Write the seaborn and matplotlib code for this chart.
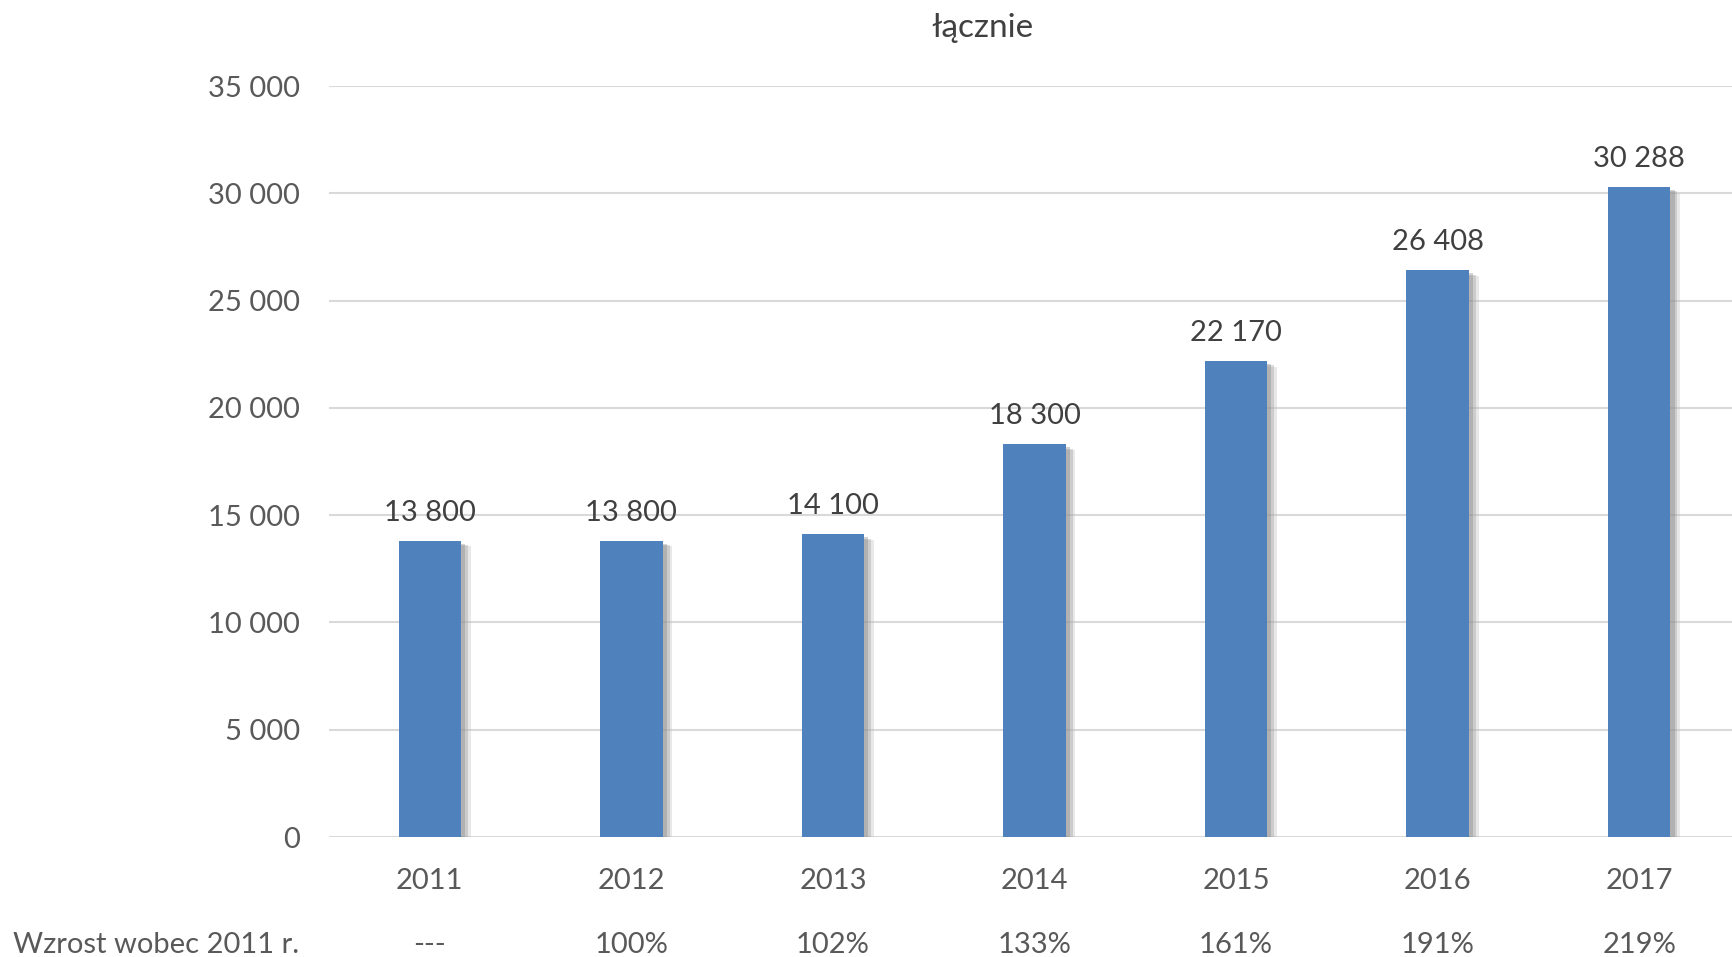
import matplotlib
matplotlib.use("Agg")
import matplotlib.pyplot as plt
import matplotlib.patheffects as pe
import matplotlib.transforms as mtransforms
from matplotlib.ticker import FuncFormatter, MultipleLocator
import seaborn as sns
import pandas as pd

years = ["2011", "2012", "2013", "2014", "2015", "2016", "2017"]
values = [13800, 13800, 14100, 18300, 22170, 26408, 30288]
growth = ["---", "100%", "102%", "133%", "161%", "191%", "219%"]
row_label = "Wzrost wobec 2011 r."
title = "łącznie"

sns.set_style("white")
plt.rcParams['font.family'] = ['Lato', 'DejaVu Sans']

text_color = "#595959"
bar_color = "#4F81BD"
fs = 21

df = pd.DataFrame({"Rok": years, "Liczba": values})

fig = plt.figure(figsize=(17.33, 9.57), dpi=100)
ax = fig.add_axes([329 / 1733, 1 - 837 / 957, 1411 / 1733, 751 / 957])

sns.barplot(data=df, x="Rok", y="Liczba", color=bar_color, width=0.31,
            saturation=1, linewidth=0, ax=ax, zorder=3)

# soft drop shadow, a few layers
for patch in ax.patches:
    patch.set_path_effects([
        pe.SimplePatchShadow(offset=(7, -4), shadow_rgbFace="#bfbfbf", alpha=0.35),
        pe.SimplePatchShadow(offset=(5, -3), shadow_rgbFace="#9a9a9a", alpha=0.35),
        pe.SimplePatchShadow(offset=(3, -2), shadow_rgbFace="#7f7f7f", alpha=0.35),
        pe.Normal(),
    ])

fmt = lambda v: f"{v:,.0f}".replace(",", " ")
ax.bar_label(ax.containers[0], labels=[fmt(v) for v in values], padding=11,
             fontsize=fs, color="#404040")

ax.set_ylim(0, 35000)
ax.set_xlim(-0.5, 6.5)
ax.yaxis.set_major_locator(MultipleLocator(5000))
ax.yaxis.set_major_formatter(FuncFormatter(lambda v, p: fmt(v)))
ax.grid(axis="y", color="#D9D9D9", linewidth=1.5, zorder=0)
ax.set_axisbelow(True)
for s in ax.spines.values():
    s.set_visible(False)
ax.tick_params(axis="both", length=0, labelsize=fs, labelcolor=text_color)
ax.tick_params(axis="x", pad=22)
ax.tick_params(axis="y", pad=21)
ax.set_xlabel("")
ax.set_ylabel("")

fig.text(982 / 1733, 1 - 28 / 957, title, ha="center", va="center",
         fontsize=24, color="#404040")

trans = mtransforms.blended_transform_factory(ax.transData, fig.transFigure)
for i, g in enumerate(growth):
    ax.text(i, 0.004, g, transform=trans, ha="center", va="baseline",
            fontsize=fs, color=text_color, clip_on=False)
fig.text(13 / 1733, 0.004, row_label, ha="left", va="baseline",
         fontsize=fs, color=text_color)

fig.savefig("out.png", dpi=100)
